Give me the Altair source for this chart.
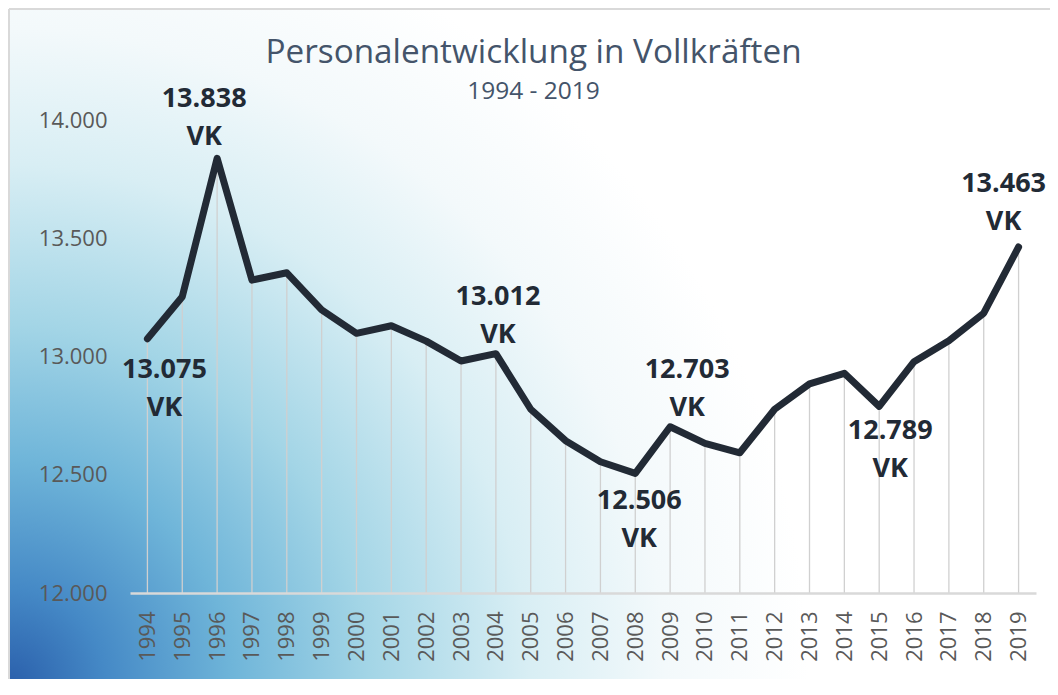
import altair as alt
import pandas as pd

# ---- data ----
years = ["1994", "1995", "1996", "1997", "1998", "1999", "2000", "2001", "2002",
         "2003", "2004", "2005", "2006", "2007", "2008", "2009", "2010", "2011",
         "2012", "2013", "2014", "2015", "2016", "2017", "2018", "2019"]
values = [13075, 13253, 13838, 13323, 13354, 13197, 13098, 13130, 13065,
          12981, 13012, 12777, 12644, 12555, 12506, 12703, 12633, 12593,
          12777, 12884, 12929, 12789, 12978, 13067, 13183, 13463]
y_ticks = [12000, 12500, 13000, 13500, 14000]
labeled_years = ["1994", "1996", "2004", "2008", "2009", "2015", "2019"]
title_text = "Personalentwicklung in Vollkräften"
subtitle_text = "1994 - 2019"

# label placement (style only): dx, dy of first text line baseline
label_style = {
    "1994": (17, 39),
    "1996": (-13, -51),
    "2004": (2, -49),
    "2008": (4, 36),
    "2009": (17, -49),
    "2015": (11, 33),
    "2019": (-15, -55),
}

df = pd.DataFrame({"year": years, "value": values})

W, H = 906, 473
PAD_L, PAD_T, PAD_R, PAD_B = 122, 112, 14, 86

FONT = "Open Sans"
DARK = "#222a35"
GREY = "#595959"
TITLE_COL = "#44546a"

x_enc = alt.X("year:O", scale=alt.Scale(type="point", padding=0.5),
              axis=alt.Axis(title=None, labelAngle=270, labelFont=FONT, labelFontSize=22,
                            labelColor=GREY, ticks=False, domainColor="#d9d9d9",
                            domainWidth=2.5, labelPadding=18, grid=False, zindex=1))
y_enc = alt.Y("value:Q", scale=alt.Scale(domain=[12000, 14000], nice=False, zero=False),
              axis=alt.Axis(title=None, values=y_ticks, domain=False, ticks=False, grid=False,
                            labelFont=FONT, labelFontSize=22, labelColor=GREY, labelPadding=23,
                            zindex=1,
                            labelExpr="replace(format(datum.value, ',.0f'), ',', '.')"))

base = alt.Chart(df)
one = alt.Data(values=[{"k": 1}])

BG_BOTTOM = H + PAD_B + 6
BG_TOP = BG_BOTTOM - 1067

bg = alt.Chart(one).mark_rect(
    color=alt.RadialGradient(
        gradient="radial",
        stops=[
            alt.GradientStop(offset=0.0, color="#2a5fab"),
            alt.GradientStop(offset=0.12, color="#4589c6"),
            alt.GradientStop(offset=0.28, color="#6fb5d9"),
            alt.GradientStop(offset=0.45, color="#a3d5e6"),
            alt.GradientStop(offset=0.65, color="#d8eef4"),
            alt.GradientStop(offset=0.82, color="#f3f9fb"),
            alt.GradientStop(offset=1.0, color="#ffffff"),
        ],
        x1=0, y1=1, r1=0, x2=0, y2=1, r2=0.75,
    ),
).encode(
    x=alt.value(-PAD_L + 1), x2=alt.value(W + 40),
    y=alt.value(BG_TOP), y2=alt.value(BG_BOTTOM),
)

bg_border = alt.Chart(one).mark_rule(color="#d9d9d9", strokeWidth=2).encode(
    x=alt.value(-PAD_L + 1), x2=alt.value(W + 40), y=alt.value(-PAD_T + 1)
)
bg_border_l = alt.Chart(one).mark_rule(color="#d9d9d9", strokeWidth=2).encode(
    x=alt.value(-PAD_L + 1), y=alt.value(-PAD_T + 1), y2=alt.value(BG_BOTTOM)
)

title = alt.Chart(one).mark_text(
    font=FONT, fontSize=33.3, color=TITLE_COL, align="center", baseline="alphabetic"
).encode(x=alt.value(403.5), y=alt.value(-57), text=alt.value(title_text))

subtitle = alt.Chart(one).mark_text(
    font=FONT, fontSize=24.5, color=TITLE_COL, align="center", baseline="alphabetic"
).encode(x=alt.value(403.5), y=alt.value(-21), text=alt.value(subtitle_text))

drops = base.mark_rule(color="#d0d0d0", strokeWidth=1.3).encode(
    x=x_enc, y=y_enc, y2=alt.datum(12000)
)

line = base.mark_line(color=DARK, strokeWidth=7, strokeCap="round", strokeJoin="round").encode(
    x=x_enc, y=y_enc
)

label_layers = []
for yr in labeled_years:
    dx, dy = label_style[yr]
    label_layers.append(
        base.transform_filter(alt.datum.year == yr)
        .transform_calculate(
            label="replace(format(datum.value, ',.0f'), ',', '.') + '\\nVK'"
        )
        .mark_text(font=FONT, fontSize=27, fontWeight="bold", color=DARK,
                   baseline="alphabetic", align="center", lineBreak="\n",
                   lineHeight=38, dx=dx, dy=dy)
        .encode(x=x_enc, y=y_enc, text="label:N")
    )

chart = alt.layer(bg, bg_border, bg_border_l, title, subtitle, drops, line,
                  *label_layers).properties(
    width=W, height=H,
    padding={"left": PAD_L, "top": PAD_T, "right": PAD_R, "bottom": PAD_B},
    autosize=alt.AutoSizeParams(type="none"),
).configure_view(stroke=None)

chart.save("out.html", embed_options={"renderer": "svg", "actions": False})
